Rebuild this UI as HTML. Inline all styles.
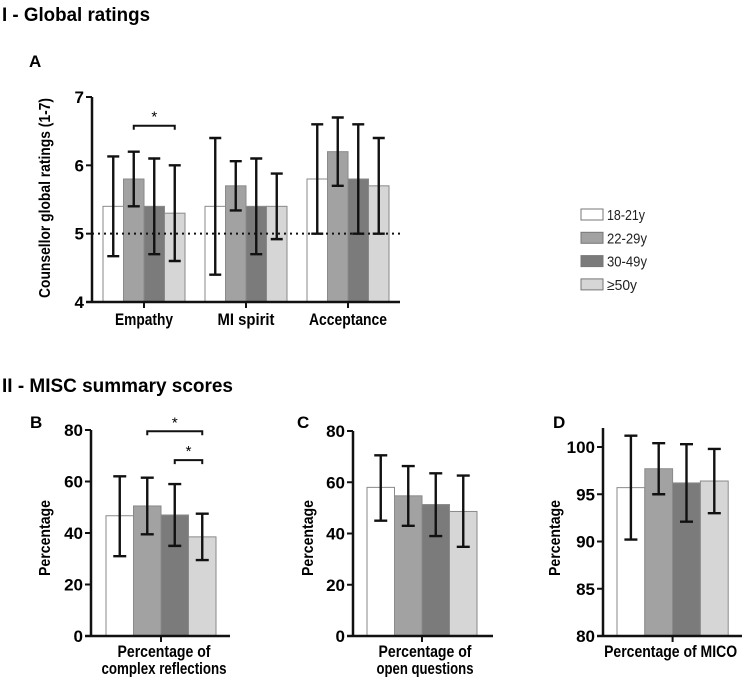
<!DOCTYPE html>
<html><head><meta charset="utf-8">
<style>
html,body{margin:0;padding:0;background:#fff;}
svg{display:block;font-family:"Liberation Sans Narrow","Liberation Sans",sans-serif;}
.b{font-weight:bold;}
</style></head>
<body>
<svg id="fig" width="748" height="677" viewBox="0 0 748 677" xmlns="http://www.w3.org/2000/svg">
<text x="2" y="21" class="b" font-size="19" textLength="148" lengthAdjust="spacingAndGlyphs">I - Global ratings</text>
<text x="29" y="67" class="b" font-size="17">A</text>
<text x="2" y="392" class="b" font-size="19" textLength="231" lengthAdjust="spacingAndGlyphs">II - MISC summary scores</text>
<text x="30" y="428" class="b" font-size="17">B</text>
<text x="297" y="428" class="b" font-size="17">C</text>
<text x="553" y="428" class="b" font-size="17">D</text>
<g id="legend"></g>
<g id="charts"></g>
</svg>
<script>
const seriesNames=["18-21y","22-29y","30-49y","≥50y"];
const seriesColors=["#ffffff","#a2a2a2","#7b7b7b","#d6d6d6"];

const aCategories=["Empathy","MI spirit","Acceptance"];
const aMeans=[[5.4,5.8,5.4,5.3],[5.4,5.7,5.4,5.4],[5.8,6.2,5.8,5.7]];
const aLow=[[4.67,5.4,4.7,4.6],[4.4,5.34,4.7,4.92],[5.0,5.7,5.0,5.0]];
const aHigh=[[6.13,6.2,6.1,6.0],[6.4,6.06,6.1,5.88],[6.6,6.7,6.6,6.4]];
const aTicks=[4,5,6,7];

const bMeans=[46.7,50.5,47,38.5];
const bLow=[31,39.5,35,29.5];
const bHigh=[62,61.5,59,47.5];
const bTicks=[0,20,40,60,80];

const cMeans=[58,54.7,51.3,48.6];
const cLow=[45,43,39,34.8];
const cHigh=[70.5,66.3,63.5,62.6];
const cTicks=[0,20,40,60,80];

const dMeans=[95.7,97.7,96.2,96.4];
const dLow=[90.2,95,92.1,93];
const dHigh=[101.2,100.4,100.3,99.8];
const dTicks=[80,85,90,95,100];

const NS="http://www.w3.org/2000/svg";
const root=document.getElementById('charts');
function mk(tag,attrs,parent){const e=document.createElementNS(NS,tag);for(const k in attrs)e.setAttribute(k,attrs[k]);(parent||root).appendChild(e);return e;}

function panel(o){
  const g=mk('g',{});
  
  
  const y=v=>o.y0+(v-o.vmin)/(o.vmax-o.vmin)*(o.y1-o.y0);
  o.groups.forEach((grp,gi)=>{
    const gx=o.gx0+gi*o.gpitch;
    grp.means.forEach((m,si)=>{
      const x=gx+si*o.bw;
      const r=mk('rect',{x:x,y:y(m),width:o.bw,height:y(o.vmin)-y(m),fill:seriesColors[si],stroke:"#8a8a8a","stroke-width":1},g);
      
      
      const cx=x+o.bw/2,lo=y(grp.low[si]),hi=y(grp.high[si]),c=o.cap/2;
      const eb=mk('path',{d:`M${cx},${lo}V${hi}M${cx-c},${lo}H${cx+c}M${cx-c},${hi}H${cx+c}`,stroke:"#111","stroke-width":2.4,fill:"none"},g);
      
      
    });
  });
  if(o.ref!==undefined){
    const l=mk('line',{x1:o.ax,x2:o.xend,y1:y(o.ref),y2:y(o.ref),stroke:"#111","stroke-width":2,"stroke-dasharray":"2,4"},g);
    
    
  }
  const ya=mk('line',{x1:o.ax,x2:o.ax,y1:o.axTop,y2:y(o.vmin)+1,stroke:"#111","stroke-width":2.5},g);
  
  
  const xa=mk('line',{x1:o.ax-6,x2:o.xend,y1:y(o.vmin),y2:y(o.vmin),stroke:"#111","stroke-width":2.5},g);
  
  
  o.ticks.forEach(t=>{
    mk('line',{x1:o.ax-6,x2:o.ax,y1:y(t),y2:y(t),stroke:"#111","stroke-width":2},g);
    const tx=mk('text',{x:o.ax-8,y:y(t)+6,"text-anchor":"end","font-size":17,"font-weight":"bold"},g);
    tx.textContent=t;
    
    
  });
  o.groups.forEach((grp,gi)=>{
    const cx=o.gx0+gi*o.gpitch+o.bw*2;
    mk('line',{x1:cx,x2:cx,y1:y(o.vmin),y2:y(o.vmin)+6,stroke:"#111","stroke-width":2},g);
    grp.label.forEach((ln,li)=>{
      const t=mk('text',{x:cx+(o.lblDx||0),y:y(o.vmin)+o.lblY+li*17,"text-anchor":"middle","font-size":17,"font-weight":"bold",textLength:grp.widths[li],lengthAdjust:"spacingAndGlyphs"},g);
      t.textContent=ln;
      
      
    });
  });
  const yt=mk('text',{x:0,y:0,"text-anchor":"middle","font-size":16,"font-weight":"bold",transform:`translate(${o.ytx},${o.yty}) rotate(-90)`,textLength:o.ytw,lengthAdjust:"spacingAndGlyphs"},g);
  yt.textContent=o.ytitle;
  
  
  (o.sig||[]).forEach(s=>{
    const x1=o.gx0+s[0]*o.bw+o.bw/2,x2=o.gx0+s[1]*o.bw+o.bw/2,yy=y(s[2]);
    const p=mk('path',{d:`M${x1},${yy+4}V${yy}H${x2}V${yy+4}`,stroke:"#111","stroke-width":2,fill:"none"},g);
    
    
    const st=mk('text',{x:(x1+x2)/2,y:yy-4,"text-anchor":"middle","font-size":15},g);
    st.textContent="*";
    
    
  });
}

const aWidths=[[58],[57],[78]];
panel({name:'panel-a-chart',short:'a',vmin:4,vmax:7,y0:302,y1:97,ax:92,axTop:97,xend:400,gx0:103,gpitch:102,bw:20.5,cap:12,ticks:aTicks,ref:5,lblY:23,
  groups:aCategories.map((c,i)=>({label:[c],widths:aWidths[i],means:aMeans[i],low:aLow[i],high:aHigh[i]})),
  ytitle:"Counsellor global ratings (1-7)",ytx:50,yty:198,ytw:200,sig:[[1,3,6.58]]});
panel({name:'panel-b-chart',short:'b',vmin:0,vmax:80,y0:636,y1:430,ax:91,axTop:430,xend:230,gx0:106,gpitch:0,bw:27.5,cap:13,ticks:bTicks,lblDx:3,lblY:21,
  groups:[{label:["Percentage of","complex reflections"],widths:[93,125],means:bMeans,low:bLow,high:bHigh}],
  ytitle:"Percentage",ytx:50,yty:538,ytw:76});
panel({name:'panel-c-chart',short:'c',vmin:0,vmax:80,y0:636,y1:431,ax:353,axTop:431,xend:493,gx0:367,gpitch:0,bw:27.5,cap:13,ticks:cTicks,lblDx:3,lblY:21,
  groups:[{label:["Percentage of","open questions"],widths:[93,97],means:cMeans,low:cLow,high:cHigh}],
  ytitle:"Percentage",ytx:313,yty:538,ytw:76});
panel({name:'panel-d-chart',short:'d',vmin:80,vmax:100,y0:636,y1:447,ax:603,axTop:428,xend:742,gx0:617,gpitch:0,bw:27.8,cap:13,ticks:dTicks,lblDx:-2,lblY:21,
  groups:[{label:["Percentage of MICO"],widths:[133],means:dMeans,low:dLow,high:dHigh}],
  ytitle:"Percentage",ytx:560,yty:538,ytw:76});
// significance brackets for panel B drawn separately (needs axis reference)
(function(){
  const y=v=>636+(v-0)/(80)*(430-636);
  const bw=27.5,gx0=106;
  const sigs=[[1,3,79.5],[2,3,68.3]];
  const g=root.lastChild.previousSibling.previousSibling;
  sigs.forEach(s=>{
    const x1=gx0+s[0]*bw+bw/2,x2=gx0+s[1]*bw+bw/2,yy=y(s[2]);
    const p=mk('path',{d:`M${x1},${yy+4}V${yy}H${x2}V${yy+4}`,stroke:"#111","stroke-width":2,fill:"none"},g);
    
    
    const st=mk('text',{x:(x1+x2)/2,y:yy-4,"text-anchor":"middle","font-size":15},g);
    st.textContent="*";
    
    
  });
})();

const legendWidths=[38,40,40,30];
const lg=document.getElementById('legend');
seriesNames.forEach((n,i)=>{
  const r=mk('rect',{x:581,y:209+i*23.3,width:22,height:11,fill:seriesColors[i],stroke:"#777","stroke-width":1},lg);
  
  
  const t=mk('text',{x:607,y:220+i*23.3,"font-size":15,fill:"#222",textLength:legendWidths[i],lengthAdjust:"spacingAndGlyphs"},lg);
  t.textContent=n;
  
  
});
</script>
</body></html>
